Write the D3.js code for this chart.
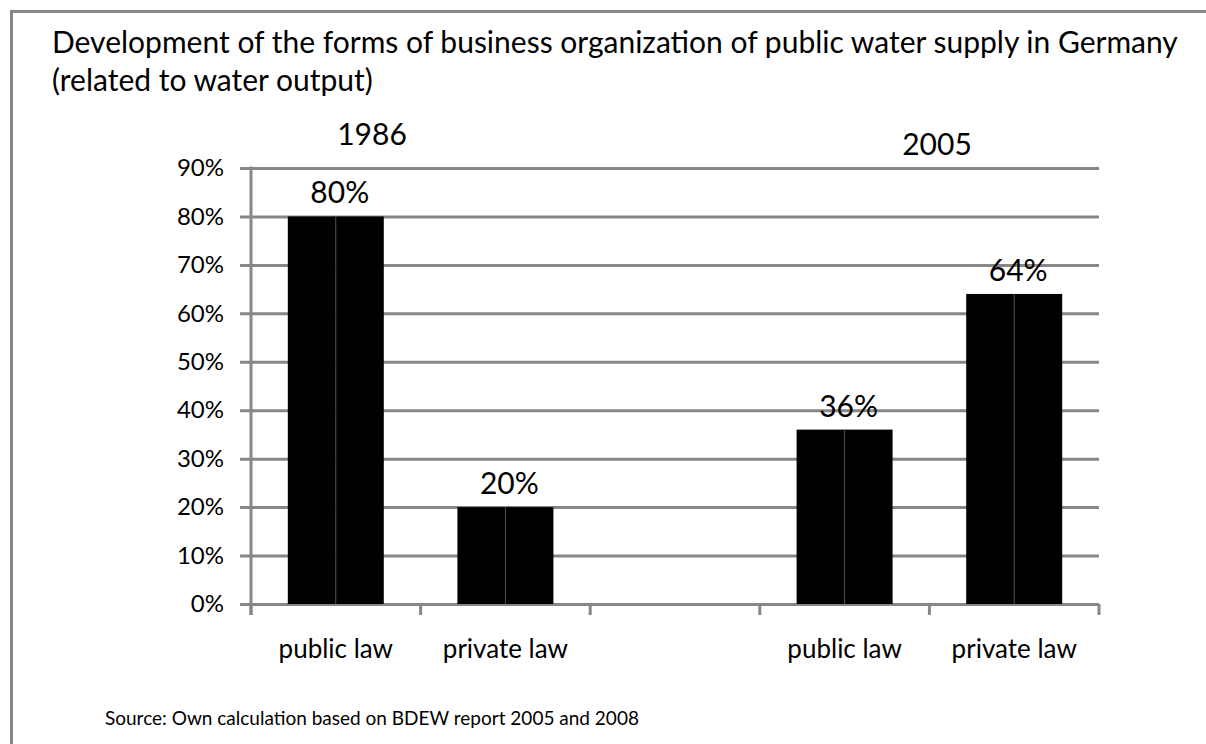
<!DOCTYPE html>
<html>
<head>
<meta charset="utf-8">
<script src="https://cdn.jsdelivr.net/npm/d3@7"></script>
<style>
  body { margin: 0; background: #fff; }
  svg { display: block; font-family: Lato, 'Open Sans', sans-serif; }
</style>
</head>
<body>
<svg id="chart" width="1206" height="744"></svg>
<script>
// chart data
const categories = ['public law', 'private law', '', 'public law', 'private law'];
const seriesA = [0.80, 0.20, null, 0.36, 0.64];
const seriesB = [0.80, 0.20, null, 0.36, 0.64];
const yTicks = [0, 0.1, 0.2, 0.3, 0.4, 0.5, 0.6, 0.7, 0.8, 0.9];
const years = ['1986', '2005'];

const titleLines = [
  'Development of the forms of business organization of public water supply in Germany',
  '(related to water output)'
];
const source = 'Source: Own calculation based on BDEW report 2005 and 2008';

const gridColor = '#878787';
const margin = { top: 168, right: 107, bottom: 140, left: 251 };
const W = 1206, H = 744;
const width = W - margin.left - margin.right;
const height = H - margin.top - margin.bottom;

const svg = d3.select('#chart');

// outer frame
svg.append('rect')
  .attr('x', 11.5).attr('y', 11.5)
  .attr('width', 1220).attr('height', 760)
  .attr('fill', 'none')
  .attr('stroke', gridColor)
  .attr('stroke-width', 3);

// title
svg.append('g').selectAll('text')
  .data(titleLines)
  .enter()
  .append('text')
  .attr('x', 52)
  .attr('y', (d, i) => 53 + i * 38)
  .attr('font-size', 30)
  .attr('fill', '#000')
  .text((d) => d);

const g = svg.append('g')
  .attr('transform', 'translate(' + margin.left + ',' + margin.top + ')');

const idx = categories.map((d, i) => i);
const x = d3.scaleBand().domain(idx).range([0, width]).padding(0);
const y = d3.scaleLinear().domain([0, 0.9]).range([height, 0]);

// grid lines + y axis labels
const yAxis = g.append('g')
  .call(d3.axisLeft(y)
    .tickValues(yTicks)
    .tickFormat(d3.format('.0%'))
    .tickSize(-width)
    .tickPadding(27));
yAxis.select('.domain').remove();
yAxis.selectAll('.tick line')
  .attr('x1', -11)
  .attr('stroke', gridColor)
  .attr('stroke-width', 3);
yAxis.selectAll('.tick text')
  .attr('font-size', 24)
  .attr('font-family', 'Lato, sans-serif')
  .attr('fill', '#000');

// vertical axis line
g.append('line')
  .attr('x1', 0).attr('x2', 0)
  .attr('y1', y(0.9) - 1.5).attr('y2', height + 11)
  .attr('stroke', gridColor)
  .attr('stroke-width', 3);

// category boundary ticks
g.append('g').selectAll('line')
  .data(idx.concat([idx.length]))
  .enter()
  .append('line')
  .attr('x1', (d) => d * x.step())
  .attr('x2', (d) => d * x.step())
  .attr('y1', height)
  .attr('y2', height + 11)
  .attr('stroke', gridColor)
  .attr('stroke-width', 3);

// category labels
const xAxis = g.append('g')
  .attr('transform', 'translate(0,' + height + ')')
  .call(d3.axisBottom(x).tickSize(0).tickPadding(36).tickFormat((i) => categories[i]));
xAxis.select('.domain').remove();
xAxis.selectAll('.tick text')
  .attr('font-size', 26)
  .attr('font-family', 'Lato, sans-serif')
  .attr('fill', '#000');

// bars: two series side by side inside each category
const series = [seriesA, seriesB];
const barFrac = 0.566;
const xs = d3.scaleBand()
  .domain([0, 1])
  .range([x.bandwidth() * (1 - barFrac) / 2, x.bandwidth() * (1 + barFrac) / 2])
  .padding(0);

const rows = idx.filter((i) => seriesA[i] != null);

series.forEach((s, k) => {
  g.append('g').selectAll('rect')
    .data(rows)
    .enter()
    .append('rect')
    .attr('x', (i) => x(i) + xs(k))
    .attr('y', (i) => y(s[i]))
    .attr('width', xs.bandwidth())
    .attr('height', (i) => height - y(s[i]))
    .attr('fill', '#000');
});

// thin separator between the two series
g.append('g').selectAll('line')
  .data(rows)
  .enter()
  .append('line')
  .attr('x1', (i) => x(i) + xs(1))
  .attr('x2', (i) => x(i) + xs(1))
  .attr('y1', (i) => y(Math.min(seriesA[i], seriesB[i])))
  .attr('y2', height)
  .attr('stroke', '#4a4a4a')
  .attr('stroke-width', 1);

// value labels
g.append('g').selectAll('text')
  .data(rows)
  .enter()
  .append('text')
  .attr('x', (i) => x(i) + x.bandwidth() / 2 + 4)
  .attr('y', (i) => y(Math.max(seriesA[i], seriesB[i])) - 13)
  .attr('text-anchor', 'middle')
  .attr('font-size', 30)
  .attr('fill', '#000')
  .text((i) => d3.format('.0%')(seriesA[i]));

// year labels
const yearPos = [{ x: 372, y: 145 }, { x: 937, y: 155 }];
svg.append('g').selectAll('text')
  .data(years)
  .enter()
  .append('text')
  .attr('x', (d, i) => yearPos[i].x)
  .attr('y', (d, i) => yearPos[i].y)
  .attr('text-anchor', 'middle')
  .attr('font-size', 30)
  .attr('fill', '#000')
  .text((d) => d);

// source note
svg.append('text')
  .attr('x', 105)
  .attr('y', 725)
  .attr('font-size', 19)
  .attr('fill', '#000')
  .text(source);
</script>
</body>
</html>
